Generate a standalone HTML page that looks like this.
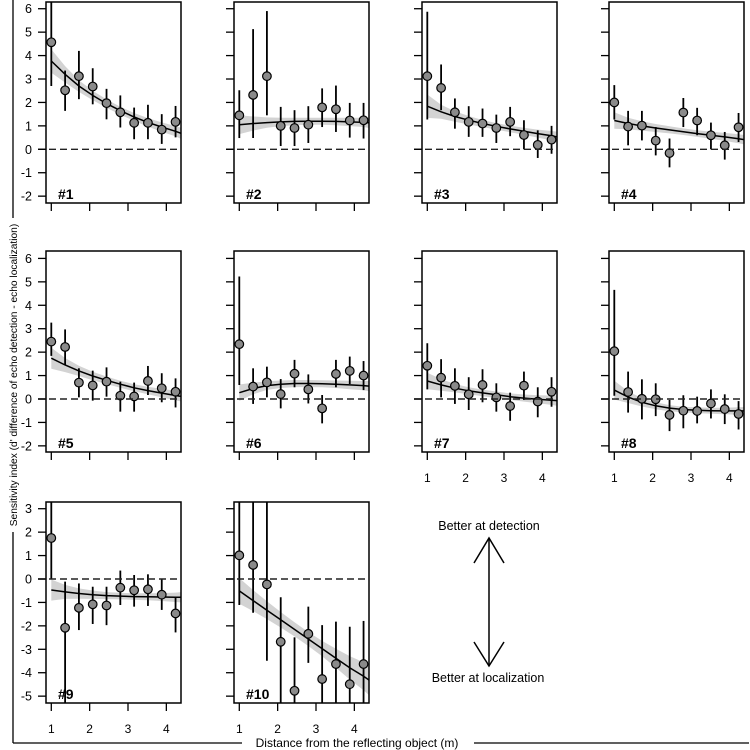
<!DOCTYPE html>
<html><head><meta charset="utf-8"><style>
html,body{margin:0;padding:0;background:#fff}
svg{display:block}
text{font-family:"Liberation Sans",Arial,sans-serif;fill:#000}
</style></head><body>
<svg id="chart" width="750" height="750" viewBox="0 0 750 750" xmlns="http://www.w3.org/2000/svg">
<g id="panels"></g>
<g id="frame">
  <line x1="13" y1="0" x2="13" y2="218" stroke="#000" stroke-width="1.3"/>
  <line x1="13" y1="532" x2="13" y2="743" stroke="#000" stroke-width="1.3"/>
  <line x1="13" y1="743" x2="242" y2="743" stroke="#000" stroke-width="1.3"/>
  <line x1="474" y1="743" x2="749" y2="743" stroke="#000" stroke-width="1.3"/>
  <text x="0" y="0" transform="translate(17,375) rotate(-90)" text-anchor="middle" font-size="10.2">Sensitivity index (d' difference of echo detection - echo localization)</text>
  <text x="357" y="747" text-anchor="middle" font-size="12">Distance from the reflecting object (m)</text>
  <g stroke="#000" stroke-width="1.5" fill="none">
    <line x1="489" y1="538" x2="489" y2="666"/>
    <polyline points="474,563 489,538 504,563"/>
    <polyline points="474,642 489,666 504,642"/>
  </g>
  <text x="489" y="530" text-anchor="middle" font-size="12.5">Better at detection</text>
  <text x="488" y="682" text-anchor="middle" font-size="12.5">Better at localization</text>
</g>
</svg>
<script>
const distances = [1,1.36,1.72,2.08,2.44,2.8,3.16,3.52,3.88,4.24];
const fitDistances = [1,1.36,1.72,2.08,2.44,2.8,3.16,3.52,3.88,4.24,4.39];
const panelLabels = ["#1","#2","#3","#4","#5","#6","#7","#8","#9","#10"];
const yTicksTop = [-2,-1,0,1,2,3,4,5,6];
const yTicksBottom = [-5,-4,-3,-2,-1,0,1,2,3];
const xTicks = [1,2,3,4];

const means = [
 [4.57,2.52,3.12,2.68,1.97,1.58,1.13,1.13,0.84,1.17],
 [1.45,2.32,3.12,1.0,0.91,1.05,1.79,1.71,1.23,1.24],
 [3.12,2.62,1.58,1.17,1.1,0.91,1.17,0.61,0.19,0.41],
 [2.0,0.97,1.01,0.37,-0.16,1.57,1.23,0.6,0.17,0.94],
 [2.45,2.22,0.7,0.58,0.74,0.14,0.11,0.77,0.46,0.31],
 [2.34,0.53,0.71,0.21,1.08,0.41,-0.4,1.07,1.2,1.0],
 [1.42,0.91,0.56,0.2,0.6,0.07,-0.3,0.57,-0.11,0.31],
 [2.04,0.3,0.01,-0.01,-0.68,-0.5,-0.51,-0.19,-0.43,-0.64],
 [1.75,-2.08,-1.23,-1.08,-1.13,-0.37,-0.48,-0.44,-0.67,-1.47],
 [1.01,0.6,-0.23,-2.68,-4.77,-2.34,-4.27,-3.63,-4.49,-3.63]
];
const ciHigh = [
 [7,3.36,4.2,3.46,2.58,2.3,1.78,1.9,1.5,1.85],
 [2.52,5.13,5.9,1.81,1.67,1.84,2.6,2.72,1.98,1.98],
 [5.87,3.62,2.17,1.84,1.74,1.48,1.81,1.24,0.81,1.0],
 [2.74,1.64,1.64,0.95,0.46,2.19,1.77,1.14,0.74,1.55],
 [3.26,2.97,1.31,1.21,1.35,0.74,0.7,1.41,1.1,0.88],
 [5.23,1.31,1.38,0.85,1.67,1.05,0.17,1.67,1.81,1.62],
 [2.38,1.7,1.31,0.93,1.27,0.67,0.27,1.17,0.5,0.93],
 [4.66,1.17,0.84,0.67,-0.04,0.16,0.1,0.41,0.2,-0.09],
 [4,-0.11,-0.19,-0.33,-0.33,0.36,0.17,0.2,0,-0.75],
 [4,4,4,-0.78,-2.49,-1.18,-1.97,-1.82,-2.04,-1.79]
];
const ciLow = [
 [2.7,1.64,2.14,1.92,1.28,0.93,0.43,0.43,0.23,0.51],
 [0.48,0.48,1.45,0.14,0.14,0.27,0.95,0.74,0.5,0.46],
 [1.27,1.67,0.88,0.53,0.53,0.27,0.56,0,-0.37,-0.19],
 [1.27,0.17,0.38,-0.26,-0.77,0.95,0.6,0,-0.44,0.31],
 [1.84,1.45,0.07,-0.07,0.1,-0.54,-0.54,0.17,-0.14,-0.36],
 [0.6,-0.21,0.07,-0.4,0.5,-0.19,-1.04,0.5,0.64,0.38],
 [0.41,0.07,-0.21,-0.47,-0.14,-0.54,-0.93,-0.04,-0.78,-0.33],
 [0.14,-0.58,-0.87,-0.73,-1.37,-1.25,-1.04,-0.83,-1.07,-1.3],
 [0,-6,-2.18,-1.92,-1.97,-1.11,-1.18,-1.15,-1.32,-2.28],
 [-1.11,-1.44,-3.49,-6,-6,-3.58,-6,-6,-6,-6]
];
const fits = [
 [3.77,3.2,2.7,2.3,1.95,1.65,1.38,1.15,0.95,0.77,0.68],
 [1.05,1.1,1.14,1.17,1.19,1.2,1.2,1.19,1.17,1.15,1.13],
 [1.84,1.6,1.4,1.24,1.1,0.98,0.87,0.77,0.67,0.58,0.53],
 [1.23,1.1,1.0,0.91,0.83,0.75,0.67,0.6,0.53,0.45,0.41],
 [1.74,1.45,1.2,0.98,0.8,0.63,0.48,0.36,0.25,0.15,0.11],
 [0.27,0.45,0.57,0.63,0.66,0.66,0.65,0.63,0.6,0.57,0.55],
 [0.77,0.6,0.46,0.35,0.26,0.18,0.1,0.04,-0.01,-0.05,-0.07],
 [0.38,0.08,-0.14,-0.29,-0.39,-0.45,-0.48,-0.5,-0.51,-0.51,-0.51],
 [-0.47,-0.55,-0.62,-0.67,-0.71,-0.73,-0.75,-0.76,-0.77,-0.78,-0.78],
 [-0.51,-0.92,-1.33,-1.74,-2.15,-2.56,-2.97,-3.38,-3.79,-4.15,-4.32]
];
const bandHalf = [
 [0.5,0.35,0.25,0.2,0.18,0.17,0.17,0.18,0.2,0.22,0.24],
 [0.4,0.3,0.22,0.18,0.16,0.15,0.15,0.16,0.18,0.2,0.22],
 [0.5,0.3,0.22,0.18,0.15,0.14,0.14,0.15,0.17,0.2,0.22],
 [0.35,0.25,0.2,0.17,0.15,0.14,0.14,0.15,0.17,0.19,0.2],
 [0.45,0.3,0.22,0.18,0.16,0.15,0.15,0.16,0.18,0.2,0.22],
 [0.35,0.25,0.18,0.16,0.15,0.15,0.15,0.16,0.18,0.2,0.22],
 [0.35,0.25,0.18,0.15,0.14,0.14,0.14,0.15,0.17,0.2,0.22],
 [0.4,0.25,0.18,0.15,0.13,0.12,0.12,0.13,0.14,0.16,0.17],
 [0.45,0.3,0.22,0.18,0.15,0.14,0.14,0.15,0.17,0.2,0.22],
 [0.55,0.45,0.38,0.33,0.3,0.3,0.33,0.4,0.5,0.6,0.65]
];

const NS = "http://www.w3.org/2000/svg";
const colLeft = [46,234,422,609];
const boxW = 135;
const rowTop = [2,251,502];
const boxH = 201;
const rowZero = [149.3,399,579];
const unit = 23.43;
const pxPerX = 38.35;
const xOrigin = 5.3;

function mk(tag, attrs, parent){
  const e = document.createElementNS(NS, tag);
  for (const k in attrs) e.setAttribute(k, attrs[k]);
  parent.appendChild(e);
  return e;
}

const root = document.getElementById('panels');
const defs = mk('defs', {}, root);

for (let p = 0; p < 10; p++){
  const row = p < 4 ? 0 : (p < 8 ? 1 : 2);
  const col = p < 4 ? p : (p < 8 ? p - 4 : p - 8);
  const L = colLeft[col], T = rowTop[row];
  const xs = v => L + xOrigin + (v - 1) * pxPerX;
  const ys = v => rowZero[row] - v * unit;
  const g = mk('g', {}, root);
  
  

  const cp = mk('clipPath', {id: 'clip' + p}, defs);
  mk('rect', {x: L, y: T, width: boxW, height: boxH}, cp);
  const inner = mk('g', {'clip-path': 'url(#clip' + p + ')'}, g);

  let up = [], dn = [];
  for (let i = 0; i < fitDistances.length; i++){
    up.push(xs(fitDistances[i]).toFixed(1) + ',' + ys(fits[p][i] + bandHalf[p][i]).toFixed(1));
    dn.unshift(xs(fitDistances[i]).toFixed(1) + ',' + ys(fits[p][i] - bandHalf[p][i]).toFixed(1));
  }
  const band = mk('polygon', {points: up.concat(dn).join(' '), fill: '#d3d3d3', stroke: 'none'}, inner);
  
  

  const zl = mk('line', {x1: L - 8, x2: L + boxW, y1: ys(0), y2: ys(0), stroke: '#222', 'stroke-width': 1.4, 'stroke-dasharray': '7,4'}, g);
  
  

  const fp = fitDistances.map((d, i) => xs(d).toFixed(1) + ',' + ys(fits[p][i]).toFixed(1)).join(' ');
  const fl = mk('polyline', {points: fp, fill: 'none', stroke: '#000', 'stroke-width': 1.5}, inner);
  
  

  for (let i = 0; i < distances.length; i++){
    const x = xs(distances[i]);
    const eb = mk('line', {x1: x, x2: x, y1: ys(ciHigh[p][i]), y2: ys(ciLow[p][i]), stroke: '#000', 'stroke-width': 1.8}, inner);
    
    
  }
  for (let i = 0; i < distances.length; i++){
    const c = mk('circle', {cx: xs(distances[i]), cy: ys(means[p][i]), r: 4.3, fill: '#8a8a8a', stroke: '#000', 'stroke-width': 1.2}, inner);
    
    
  }

  const bx = mk('rect', {x: L, y: T, width: boxW, height: boxH, fill: 'none', stroke: '#000', 'stroke-width': 1.5}, g);
  
  

  const yt = row < 2 ? yTicksTop : yTicksBottom;
  for (const v of yt){
    const y = ys(v);
    mk('line', {x1: L - 8, x2: L, y1: y, y2: y, stroke: '#000', 'stroke-width': 1.3}, g);
    if (col === 0){
      const t = mk('text', {x: L - 14, y: y + 4.5, 'text-anchor': 'end', 'font-size': 12.5}, g);
      t.textContent = v;
      
      
    }
  }
  for (const v of xTicks){
    const x = xs(v);
    mk('line', {x1: x, x2: x, y1: T + boxH, y2: T + boxH + 8, stroke: '#000', 'stroke-width': 1.3}, g);
    if (p >= 6){
      const t = mk('text', {x: x, y: T + boxH + 30, 'text-anchor': 'middle', 'font-size': 12}, g);
      t.textContent = v;
      
      
    }
  }
  const lab = mk('text', {x: L + 12, y: T + boxH - 4, 'font-size': 14, 'font-weight': 'bold'}, g);
  lab.textContent = panelLabels[p];
  
  
}
</script>
</body></html>
